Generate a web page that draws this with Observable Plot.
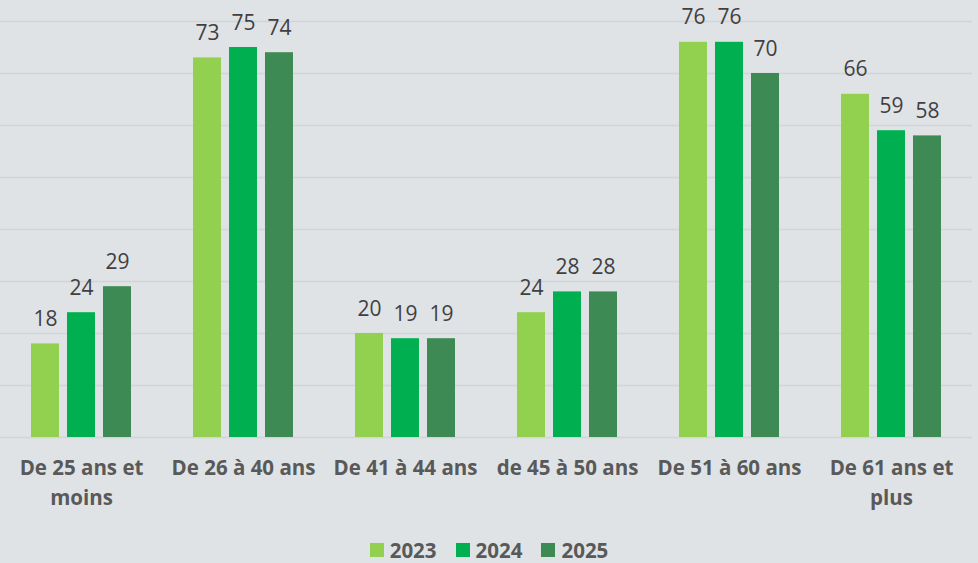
<!DOCTYPE html>
<html>
<head>
<meta charset="utf-8">
<script src="https://cdn.jsdelivr.net/npm/d3@7"></script>
<script src="https://cdn.jsdelivr.net/npm/@observablehq/plot@0.6"></script>
<style>
  html, body { margin: 0; padding: 0; background: #dfe3e6; }
  body { width: 978px; height: 563px; overflow: hidden; font-family: "Open Sans", Lato, sans-serif; }
  #legend { display: flex; justify-content: center; align-items: center; gap: 19px; height: 28px; margin-top: 16px; }
  .item { display: flex; align-items: center; gap: 6px; font-weight: bold; font-size: 20.5px; color: #595959; }
  .sw { width: 14px; height: 14px; display: inline-block; }
</style>
</head>
<body>
<div id="chart"></div>
<div id="legend"></div>
<script>
const categories = ["De 25 ans et\nmoins", "De 26 à 40 ans", "De 41 à 44 ans", "de 45 à 50 ans", "De 51 à 60 ans", "De 61 ans et\nplus"];
const years = ["2023", "2024", "2025"];
const values2023 = [18, 73, 20, 24, 76, 66];
const values2024 = [24, 75, 19, 28, 76, 59];
const values2025 = [29, 74, 19, 28, 70, 58];
const colors = ["#92d050", "#00b050", "#3d8a55"];
const yTicks = [0, 10, 20, 30, 40, 50, 60, 70, 80];

const series = [values2023, values2024, values2025];
const data = categories.flatMap((c, i) => years.map((y, j) => ({cat: c, year: y, value: series[j][i]})));

const barStep = 36, barWidth = 28;
const offsets = [-barStep, 0, barStep];

const marks = [
  Plot.ruleY(yTicks, {stroke: "#d3d4d5", strokeWidth: 1.5})
];
years.forEach((yr, j) => {
  const d = data.filter(r => r.year === yr);
  marks.push(Plot.barY(d, {
    x: "cat", y: "value", fill: colors[j], dx: offsets[j],
    insetLeft: (162 - barWidth) / 2, insetRight: (162 - barWidth) / 2
  }));
  marks.push(Plot.text(d, {
    x: "cat", y: "value", text: r => String(r.value), dx: offsets[j], dy: -18,
    lineAnchor: "bottom", fill: "#404040", fontSize: 21
  }));
});
marks.push(Plot.axisX({
  tickSize: 0, tickPadding: 16, fontWeight: "bold", fontSize: 20.5, lineHeight: 1.47,
  fill: "#595959", label: null
}));

const chart = Plot.plot({
  width: 978, height: 520,
  marginTop: 21, marginBottom: 83, marginLeft: 0, marginRight: 6,
  style: {background: "transparent", fontFamily: "'Open Sans', Lato, sans-serif", color: "#595959"},
  x: {domain: categories, padding: 0, label: null},
  y: {domain: [0, 80], axis: null},
  marks
});
document.getElementById("chart").appendChild(chart);

const legend = document.getElementById("legend");
years.forEach((yr, j) => {
  const item = document.createElement("span");
  item.className = "item";
  const sw = document.createElement("span");
  sw.className = "sw";
  sw.style.background = colors[j];
  item.appendChild(sw);
  item.appendChild(document.createTextNode(yr));
  legend.appendChild(item);
});
</script>
</body>
</html>
